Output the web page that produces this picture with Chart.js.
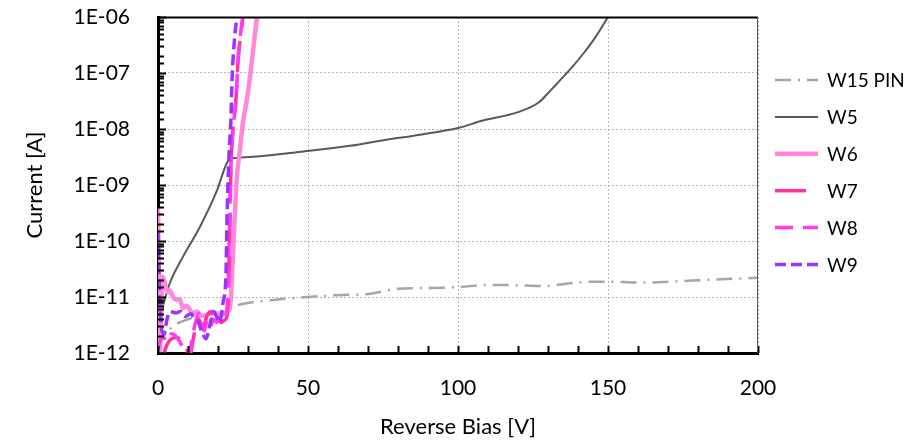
<!DOCTYPE html>
<html>
<head>
<meta charset="utf-8">
<script src="https://cdn.jsdelivr.net/npm/chart.js@4.4.0/dist/chart.umd.min.js"></script>
<style>
  html, body { margin: 0; padding: 0; background: #fff; }
</style>
</head>
<body>
<canvas id="ivChart" width="917" height="443"></canvas>
<script>
// tick labels
const xTickLabels = [0, 50, 100, 150, 200];
const yTickLabels = ['1E-12', '1E-11', '1E-10', '1E-09', '1E-08', '1E-07', '1E-06'];

// W15 PIN
const w15Bias = [0, 2, 5, 10, 16, 21, 26, 31, 40, 50, 60, 70, 80, 91, 100, 110, 118, 129, 136, 145, 152, 158, 165, 170, 181, 192, 200];
const w15Current = [1.2e-12, 2e-12, 3e-12, 4e-12, 4.7e-12, 5.3e-12, 7e-12, 8e-12, 9e-12, 1.0e-11, 1.08e-11, 1.13e-11, 1.4e-11, 1.45e-11, 1.5e-11, 1.64e-11, 1.63e-11, 1.57e-11, 1.73e-11, 1.88e-11, 1.88e-11, 1.82e-11, 1.82e-11, 1.88e-11, 2.0e-11, 2.12e-11, 2.2e-11];

// W5
const w5Bias = [0, 0.5, 1, 1.7, 2.5, 4, 8.3, 14, 19.7, 23, 24, 25, 30.7, 47, 64, 75, 88, 100, 108, 120, 127, 131, 137, 142, 146, 150];
const w5Current = [1e-12, 2e-12, 4e-12, 7e-12, 1e-11, 1.8e-11, 5.2e-11, 1.8e-10, 8.1e-10, 2.5e-9, 2.8e-9, 3.0e-9, 3.16e-9, 3.9e-9, 5.0e-9, 6.3e-9, 8.0e-9, 1.04e-8, 1.4e-8, 2.0e-8, 3.0e-8, 5.0e-8, 1.1e-7, 2.3e-7, 4.5e-7, 1e-6];

// W6
const w6Bias = [0, 0.3, 0.6, 1.0, 1.6, 2.5, 3.2, 4.0, 5.0, 6.0, 7.3, 8.3, 9.5, 11.7, 13, 14.5, 16.3, 18, 19.7, 21.5, 23, 24, 25, 25.7, 26.2, 27.3, 28.3, 29.7, 31, 32, 33];
const w6Current = [4e-10, 3e-11, 1.1e-12, 5e-12, 2.3e-11, 1.6e-11, 1.2e-11, 1.3e-11, 1.0e-11, 9e-12, 9e-12, 6.3e-12, 7e-12, 5.1e-12, 5.5e-12, 4.6e-12, 4.8e-12, 5.3e-12, 5.1e-12, 4.8e-12, 5.4e-12, 6.5e-12, 6e-11, 3.5e-10, 1.2e-9, 4.2e-9, 1.3e-8, 3.5e-8, 1.2e-7, 3.5e-7, 1e-6];

// W7
const w7Bias = [1.5, 3, 4.5, 6.3, 8, 9.5, 10.7, 11.5, 12.5, 13.5, 15, 16.3, 17.5, 18.5, 19.5, 21, 22, 23, 23.5, 24, 24.3, 25, 26, 26.7, 27.5, 28.3];
const w7Current = [8e-13, 1.4e-12, 1.8e-12, 1.9e-12, 1.6e-12, 1.2e-12, 9e-13, 1.5e-12, 2.8e-12, 4e-12, 3e-12, 4.5e-12, 5.5e-12, 4.5e-12, 5e-12, 3.5e-12, 3.8e-12, 4.5e-12, 1.5e-11, 2e-10, 1.9e-9, 1e-8, 3.5e-8, 1.7e-7, 4.5e-7, 1e-6];

// W8
const w8Bias = [0, 1.5, 3, 4.5, 6, 7.5, 9, 10.3, 11.5, 12.5, 13.5, 14.5, 15.5, 16.5, 17.5, 18.5, 19.5, 20.5, 21.5, 22.5, 23.3, 23.8, 24.3, 25, 26, 26.7, 27.5, 28.3];
const w8Current = [1.2e-12, 2e-12, 1.6e-12, 2.2e-12, 2e-12, 1.5e-12, 1.1e-12, 9e-13, 2e-12, 3.5e-12, 5e-12, 3e-12, 2.5e-12, 4e-12, 3e-12, 4e-12, 3.5e-12, 4.5e-12, 4e-12, 4.5e-12, 1.2e-11, 1.5e-10, 2e-9, 1e-8, 3.3e-8, 1.8e-7, 5e-7, 1e-6];

// W9
const w9Bias = [0, 0.4, 0.8, 1.3, 2.0, 3.0, 4.0, 6.0, 7.5, 9.0, 11.0, 12.0, 13.5, 14.5, 16, 17.5, 18.5, 19.5, 20.5, 21.7, 22.7, 23.0, 23.7, 24.3, 24.7, 25.5, 26.3];
const w9Current = [1.5e-10, 2e-11, 5e-12, 2.5e-12, 2.2e-12, 4e-12, 5.5e-12, 5.2e-12, 5.5e-12, 4.5e-12, 5e-12, 4.2e-12, 3.5e-12, 2.5e-12, 1.8e-12, 3.5e-12, 5.5e-12, 4.5e-12, 3.5e-12, 8e-12, 3e-11, 2.4e-10, 3.7e-9, 1.45e-8, 8e-8, 4e-7, 1e-6];

const seriesNames = ['W15 PIN', 'W5', 'W6', 'W7', 'W8', 'W9'];
const seriesBias = [w15Bias, w5Bias, w6Bias, w7Bias, w8Bias, w9Bias];
const seriesCurrent = [w15Current, w5Current, w6Current, w7Current, w8Current, w9Current];

const seriesStyles = [
  { color: '#a6a6a6', width: 2.5, dash: [16, 7, 2, 7] },
  { color: '#595959', width: 2, dash: [] },
  { color: '#ff88d8', width: 4.5, dash: [] },
  { color: '#ff3399', width: 3.5, dash: [31, 12] },
  { color: '#ff3cf0', width: 3.5, dash: [18, 10] },
  { color: '#9933ff', width: 3.5, dash: [11, 5] }
];

const isDecade = (v) => {
  const e = Math.log10(v);
  return Math.abs(e - Math.round(e)) < 1e-6;
};

const datasets = seriesNames.map((name, i) => ({
  label: name,
  data: seriesBias[i].map((x, j) => ({ x: x, y: seriesCurrent[i][j] })),
  borderColor: seriesStyles[i].color,
  borderWidth: seriesStyles[i].width,
  borderDash: seriesStyles[i].dash,
  pointRadius: 0,
  fill: false,
  cubicInterpolationMode: 'monotone',
  order: seriesNames.length - i
}));

// inward tick marks, frame lines and the legend
const frameAndLegend = {
  id: 'frameAndLegend',
  afterDraw(chart) {
    const ctx = chart.ctx;
    const area = chart.chartArea;
    const xs = chart.scales.x;
    const ys = chart.scales.y;
    ctx.save();
    ctx.strokeStyle = '#000';
    ctx.lineWidth = 2;
    ctx.setLineDash([]);
    ys.ticks.forEach(t => {
      const py = Math.round(ys.getPixelForValue(t.value)) + 0.5;
      const len = isDecade(t.value) ? 8 : 6;
      ctx.beginPath();
      ctx.moveTo(area.left, py);
      ctx.lineTo(area.left + len, py);
      ctx.stroke();
    });
    xs.ticks.forEach(t => {
      const px = Math.round(xs.getPixelForValue(t.value)) + 0.5;
      ctx.beginPath();
      ctx.moveTo(px, area.bottom);
      ctx.lineTo(px, area.bottom - 7);
      ctx.stroke();
    });
    // top and right frame
    ctx.beginPath();
    ctx.moveTo(area.left, area.top + 0.5);
    ctx.lineTo(area.right, area.top + 0.5);
    ctx.stroke();
    ctx.lineWidth = 1;
    ctx.strokeStyle = '#595959';
    ctx.beginPath();
    ctx.moveTo(area.right - 0.5, area.top);
    ctx.lineTo(area.right - 0.5, area.bottom);
    ctx.stroke();

    // legend
    ctx.font = '19px Lato';
    ctx.textBaseline = 'middle';
    ctx.textAlign = 'left';
    chart.data.datasets.forEach((ds, i) => {
      const y = 80 + i * 36.9;
      ctx.strokeStyle = ds.borderColor;
      ctx.lineWidth = ds.borderWidth;
      ctx.setLineDash(ds.borderDash || []);
      ctx.beginPath();
      ctx.moveTo(775, y);
      ctx.lineTo(818, y);
      ctx.stroke();
      ctx.setLineDash([]);
      ctx.fillStyle = '#000';
      ctx.fillText(ds.label, 827, y + 1);
    });
    ctx.restore();
  }
};

Chart.defaults.font.family = 'Lato';
Chart.defaults.color = '#000';

new Chart(document.getElementById('ivChart'), {
  type: 'line',
  data: { datasets },
  options: {
    responsive: false,
    animation: false,
    devicePixelRatio: 1,
    layout: { padding: { top: 17, right: 159, left: 0, bottom: 0 } },
    plugins: { legend: { display: false }, tooltip: { enabled: false } },
    scales: {
      x: {
        type: 'linear',
        min: 0,
        max: 200,
        ticks: {
          stepSize: 10,
          autoSkip: false,
          maxRotation: 0,
          padding: 23,
          font: { size: 21 },
          callback: (v) => xTickLabels.includes(v) ? String(v) : ''
        },
        grid: {
          drawTicks: false,
          lineWidth: 1,
          color: (c) => (c.tick && c.tick.value > 0 && c.tick.value % 50 === 0) ? '#b4b4b4' : 'rgba(0,0,0,0)'
        },
        border: { display: true, color: '#000', width: 3, dash: [2, 2] },
        title: { display: true, text: 'Reverse Bias [V]', font: { size: 22 }, padding: { top: 3, bottom: 3 } },
        afterFit: (s) => { s.height = 90; s.paddingLeft = 0; s.paddingRight = 0; }
      },
      y: {
        type: 'logarithmic',
        min: 1e-12,
        max: 1e-6,
        ticks: {
          autoSkip: false,
          padding: 28,
          font: { size: 21 },
          callback: (v) => isDecade(v) ? yTickLabels[Math.round(Math.log10(v)) + 12] : ''
        },
        grid: {
          drawTicks: false,
          lineWidth: 1,
          color: (c) => (c.tick && isDecade(c.tick.value)) ? '#b4b4b4' : 'rgba(0,0,0,0)'
        },
        border: { display: true, color: '#000', width: 3, dash: [2, 2] },
        title: { display: true, text: 'Current [A]', font: { size: 22 }, padding: { top: 22, bottom: 22 } },
        afterFit: (s) => { s.width = 158; s.paddingTop = 0; s.paddingBottom = 0; }
      }
    }
  },
  plugins: [frameAndLegend]
});
</script>
</body>
</html>
